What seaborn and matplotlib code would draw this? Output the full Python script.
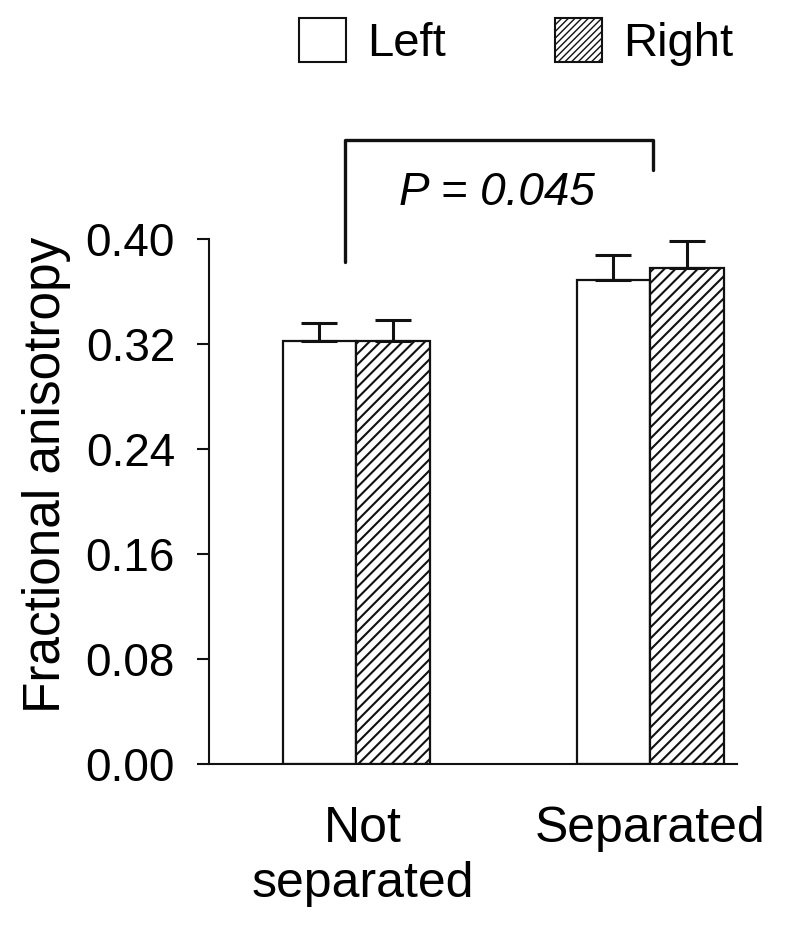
import numpy as np
import pandas as pd
import matplotlib
matplotlib.use("Agg")
import matplotlib.pyplot as plt
import matplotlib.transforms as mtransforms
from matplotlib.patches import Patch
from matplotlib.ticker import FormatStrFormatter
import seaborn as sns

# data
groups = ["Not\nseparated", "Separated"]
sides = ["Left", "Right"]
left_mean = [0.322, 0.369]
right_mean = [0.322, 0.378]
left_sem = [0.014, 0.019]
right_sem = [0.016, 0.020]
y_ticks = [0.00, 0.08, 0.16, 0.24, 0.32, 0.40]
p_label = "P = 0.045"

df = pd.DataFrame({
    "group": groups * 2,
    "side": [sides[0]] * 2 + [sides[1]] * 2,
    "fa": left_mean + right_mean,
    "err": left_sem + right_sem,
})

sns.set_style("ticks")
plt.rcParams["font.family"] = ["Liberation Sans", "DejaVu Sans"]
plt.rcParams["hatch.color"] = "#111111"
for key in ["text.color", "axes.labelcolor", "xtick.color", "ytick.color"]:
    plt.rcParams[key] = "black"

INK = "#111111"

fig = plt.figure(figsize=(7.86, 9.33), dpi=100)
ax = fig.add_axes([0.266, 0.181, 0.672, 0.563])

sns.barplot(data=df, x="group", y="fa", hue="side", order=groups, hue_order=sides,
            palette=["white", "white"], edgecolor=INK, linewidth=1.6,
            width=0.5, errorbar=None, legend=False, ax=ax)

# hatch the right-hemisphere bars and add one-sided error bars
for cont, side in zip(ax.containers, sides):
    sub = df[df["side"] == side].set_index("group").loc[groups]
    xs = [b.get_x() + b.get_width() / 2 for b in cont]
    if side == "Right":
        for b in cont:
            b.set_hatch("///")
            if hasattr(b, "set_hatch_linewidth"):
                b.set_hatch_linewidth(1.5)
    ax.errorbar(xs, sub["fa"].values,
                yerr=[np.zeros(len(xs)), sub["err"].values],
                fmt="none", ecolor=INK, elinewidth=2.2,
                capsize=13, capthick=2.2, zorder=1)

ax.set_xlim(-0.5, 1.296)
ax.set_ylim(0, 0.40)
ax.set_yticks(y_ticks)
ax.yaxis.set_major_formatter(FormatStrFormatter("%.2f"))
ax.set_xlabel("")
ax.set_ylabel("Fractional anisotropy", fontsize=37)
ax.yaxis.set_label_coords(-0.262, 0.55)
ax.tick_params(axis="y", labelsize=33, length=8.5, width=1.5, pad=16, color=INK)
ax.tick_params(axis="x", labelsize=36, length=0, pad=30)
labels = ax.get_xticklabels()
for lab in labels:
    lab.set_linespacing(1.25)
labels[0].set_transform(labels[0].get_transform() +
                        mtransforms.ScaledTranslation(5 / 72, 0, fig.dpi_scale_trans))
sns.despine(ax=ax)
for s in ["left", "bottom"]:
    ax.spines[s].set_linewidth(1.5)
    ax.spines[s].set_color(INK)

# significance bracket
br_x = [-0.037, -0.037, 1.01, 1.01]
br_y = [0.3825, 0.4754, 0.4754, 0.4526]
ax.plot(br_x, br_y, color=INK, lw=2.4, clip_on=False, solid_joinstyle="round")
ax.text(0.48, 0.435, p_label, fontsize=33, style="italic",
        ha="center", va="center", clip_on=False)

legend_right = Patch(facecolor="white", edgecolor=INK, linewidth=1.5, hatch="/////")
if hasattr(legend_right, "set_hatch_linewidth"):
    legend_right.set_hatch_linewidth(0.8)
handles = [Patch(facecolor="white", edgecolor=INK, linewidth=1.5), legend_right]
fig.legend(handles, sides, ncol=2, frameon=False, fontsize=34,
           loc="center left", bbox_to_anchor=(0.38, 0.955),
           handlelength=1.0, handleheight=1.05, handletextpad=0.45,
           columnspacing=2.3, borderpad=0, borderaxespad=0)

fig.savefig("out.png", dpi=100)
